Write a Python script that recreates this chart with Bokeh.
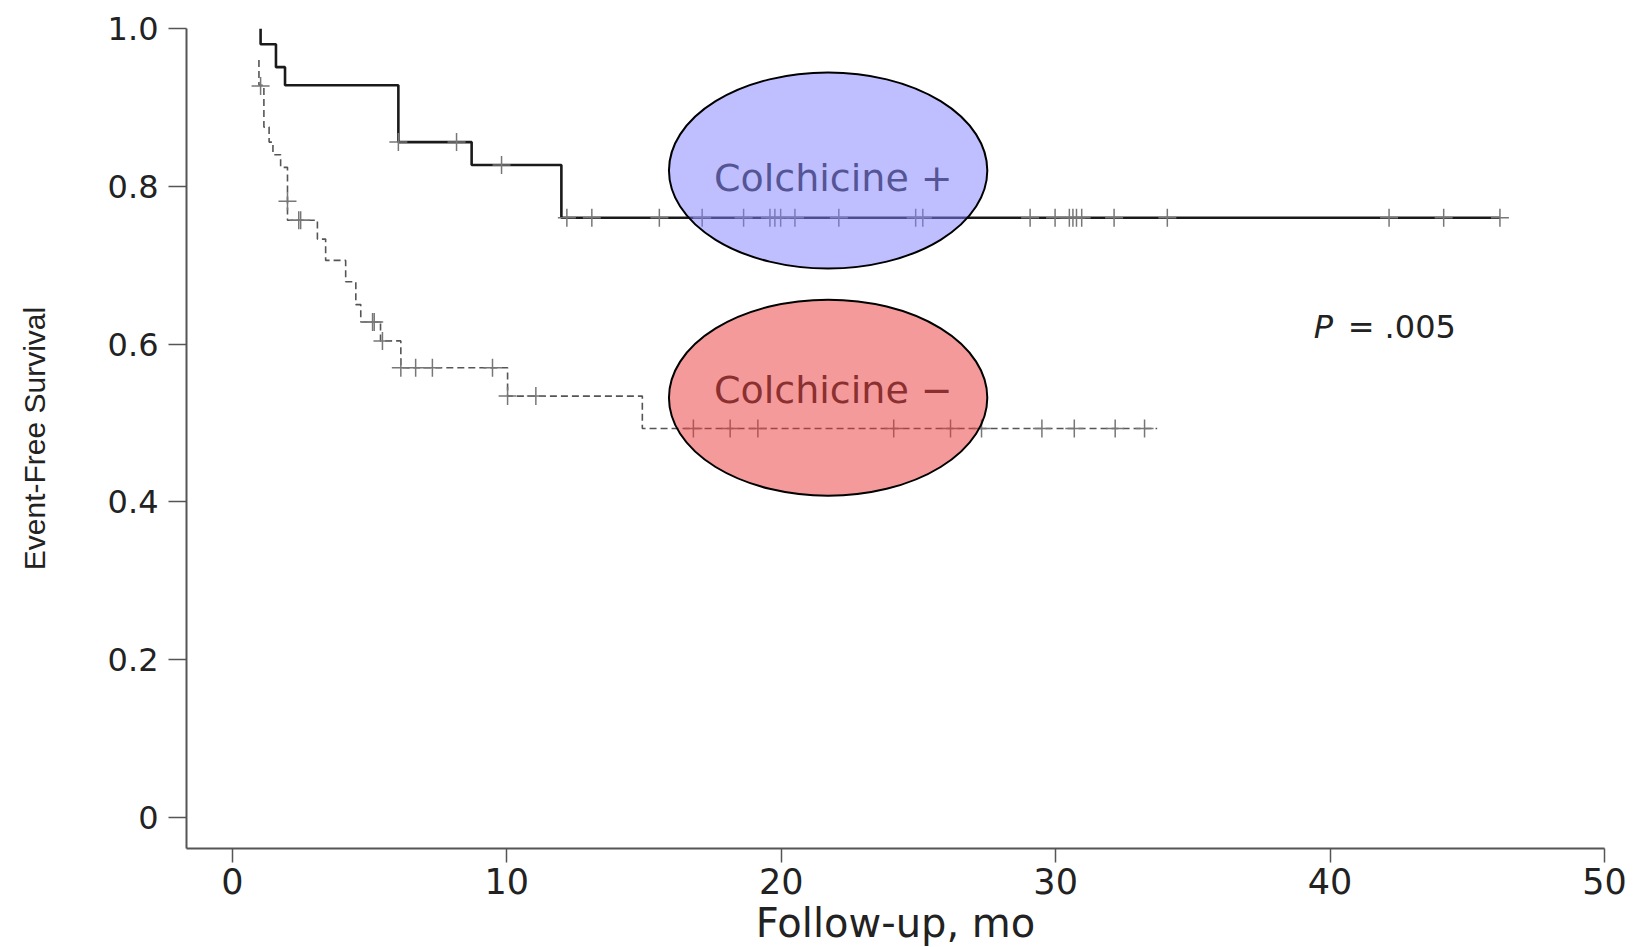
from bokeh.plotting import figure
from bokeh.models import Range1d, FixedTicker, ColumnDataSource
from bokeh.core.properties import value
from bokeh.embed import file_html
from bokeh.resources import INLINE

# ---------------- data ----------------
# Colchicine + (solid line)
pos_start_t = 1.03
pos_start_s = 1.0
pos_event_t = [1.03, 1.59, 1.92, 6.05, 8.72, 11.99]
pos_event_s = [0.980, 0.951, 0.928, 0.856, 0.827, 0.760]
pos_end_t = 46.19
pos_censor_t = [6.05, 8.17, 9.81, 12.19, 13.1, 15.56, 17.12, 18.63, 19.59, 19.77,
                19.98, 20.5, 22.1, 24.9, 25.16, 29.07, 29.98, 30.5, 30.63, 30.76,
                30.95, 32.13, 34.07, 42.15, 44.14, 46.19]

# Colchicine - (dashed line)
neg_start_t = 0.97
neg_start_s = 0.960
neg_event_t = [0.97, 1.15, 1.34, 1.48, 1.76, 2.01, 3.10, 3.40, 4.13, 4.50, 4.68,
               5.40, 6.14, 10.03, 14.94]
neg_event_s = [0.928, 0.875, 0.856, 0.840, 0.824, 0.757, 0.733, 0.706, 0.679, 0.650,
               0.628, 0.604, 0.570, 0.534, 0.493]
neg_end_t = 33.7
neg_censor_t = [1.03, 2.01, 2.42, 2.49, 5.11, 5.17, 5.47, 6.14, 6.68, 7.29, 9.48,
                10.03, 11.06, 16.8, 18.14, 19.15, 24.1, 26.17, 27.3, 29.5, 30.68,
                32.17, 33.24]
neg_censor_s = [0.927, 0.781, 0.757, 0.757, 0.628, 0.628, 0.604, 0.570, 0.570, 0.570,
                0.570, 0.534, 0.534, 0.493, 0.493, 0.493, 0.493, 0.493, 0.493, 0.493,
                0.493, 0.493, 0.493]

# group label ellipses
group_labels = ["Colchicine +", "Colchicine \u2212"]
ellipse_x = [21.71, 21.71]
ellipse_y = [0.820, 0.532]
ellipse_w = [11.6, 11.6]
ellipse_h = [0.2487, 0.2487]
ellipse_colors = ["#8080ff", "#ea3535"]
label_x = [21.9, 21.9]
label_y = [0.811, 0.542]

# p value
p_text_x = [39.41, 40.64]
p_text_y = [0.621, 0.621]
p_texts = ["P", "= .005"]

x_ticks = [0, 10, 20, 30, 40, 50]
y_ticks = [0, 0.2, 0.4, 0.6, 0.8, 1.0]
y_tick_labels = ["0", "0.2", "0.4", "0.6", "0.8", "1.0"]


def step_xy(t0, s0, times, surv, tend):
    xs, ys, cur = [t0], [s0], s0
    for t, s in zip(times, surv):
        xs += [t, t]
        ys += [cur, s]
        cur = s
    xs.append(tend)
    ys.append(cur)
    return xs, ys


def surv_at(t, s0, times, surv):
    cur = s0
    for tt, s in zip(times, surv):
        if tt <= t:
            cur = s
    return cur


p = figure(frame_width=1418, frame_height=820,
           min_border_left=186, min_border_right=24,
           min_border_top=28, min_border_bottom=98,
           x_range=Range1d(-1.67, 50), y_range=Range1d(-0.0395, 1.0),
           output_backend="svg", toolbar_location=None,
           background_fill_color="white", border_fill_color="white")
p.outline_line_color = None
p.grid.visible = False

# axes
for ax in (p.xaxis[0], p.yaxis[0]):
    ax.axis_line_color = "#555555"
    ax.axis_line_width = 2
    ax.major_tick_line_color = "#555555"
    ax.major_tick_line_width = 1.5
    ax.minor_tick_line_color = None
    ax.major_tick_in = 0
    ax.major_label_text_font = "DejaVu Sans"
    ax.major_label_text_color = "#222222"

p.xaxis.ticker = FixedTicker(ticks=x_ticks)
p.xaxis.major_tick_out = 14
p.xaxis.major_label_text_font_size = "35px"
p.xaxis.major_label_standoff = 5
p.xaxis.axis_label = "Follow-up, mo"
p.xaxis.axis_label_text_font = "DejaVu Sans"
p.xaxis.axis_label_text_font_style = "normal"
p.xaxis.axis_label_text_font_size = "40px"
p.xaxis.axis_label_text_color = "#222222"
p.xaxis.axis_label_standoff = 3

p.yaxis.ticker = FixedTicker(ticks=y_ticks)
p.yaxis.major_label_overrides = {t: l for t, l in zip(y_ticks, y_tick_labels)}
p.yaxis.major_tick_out = 18
p.yaxis.major_label_text_font_size = "32px"
p.yaxis.major_label_standoff = 10
p.yaxis.axis_label = "Event-Free Survival"
p.yaxis.axis_label_text_font = "Liberation Sans"
p.yaxis.axis_label_text_font_style = "normal"
p.yaxis.axis_label_text_font_size = "30px"
p.yaxis.axis_label_text_color = "#222222"
p.yaxis.axis_label_standoff = 54

# curves
nx, ny = step_xy(neg_start_t, neg_start_s, neg_event_t, neg_event_s, neg_end_t)
p.line(nx, ny, line_color="#555555", line_width=1.6, line_dash="7 4")
p.scatter(neg_censor_t, neg_censor_s, marker="cross", size=18,
          line_color="#777777", line_width=1.5)

px, py = step_xy(pos_start_t, pos_start_s, pos_event_t, pos_event_s, pos_end_t)
p.line(px, py, line_color="#1a1a1a", line_width=2.6)
pos_censor_s = [surv_at(t, pos_start_s, pos_event_t, pos_event_s) for t in pos_censor_t]
p.scatter(pos_censor_t, pos_censor_s, marker="cross", size=18,
          line_color="#777777", line_width=1.5)

# labels (under translucent ellipses)
p.text(label_x, label_y, text=group_labels, text_font=value("DejaVu Sans"),
       text_font_size="38px", text_color="#2b2b2b", text_align="center",
       text_baseline="alphabetic")

esrc = ColumnDataSource(dict(x=ellipse_x, y=ellipse_y, w=ellipse_w, h=ellipse_h,
                             c=ellipse_colors))
p.ellipse(x="x", y="y", width="w", height="h", source=esrc,
          fill_color="c", fill_alpha=0.5, line_color="black", line_width=2)

# P value
p.text(p_text_x[:1], p_text_y[:1], text=p_texts[:1], text_font=value("DejaVu Sans"),
       text_font_style="italic", text_font_size="32px", text_color="#222222",
       text_baseline="alphabetic")
p.text(p_text_x[1:], p_text_y[1:], text=p_texts[1:], text_font=value("DejaVu Sans"),
       text_font_size="32px", text_color="#222222", text_baseline="alphabetic")

open("out.html", "w").write(file_html(p, INLINE))
